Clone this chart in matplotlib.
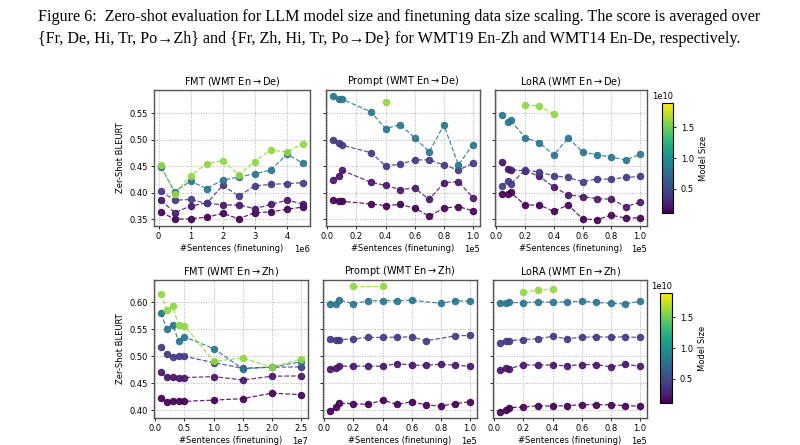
import matplotlib
matplotlib.use("Agg")
import matplotlib.pyplot as plt
import numpy as np
from matplotlib import cm, colors

# ---------------- data ----------------
sizes = [1e9, 2e9, 4e9, 8e9, 1.6e10]

fmt_de_x = [8e4, 5e5, 1e6, 1.5e6, 2e6, 2.5e6, 3e6, 3.5e6, 4e6, 4.5e6]
fmt_de_y = {
    1e9:   [0.364, 0.350, 0.351, 0.354, 0.361, 0.351, 0.3625, 0.364, 0.369, 0.373],
    2e9:   [0.386, 0.3625, 0.375, 0.381, 0.377, 0.377, 0.370, 0.378, 0.386, 0.379],
    4e9:   [0.403, 0.386, 0.3875, 0.380, 0.414, 0.394, 0.413, 0.416, 0.4175, 0.419],
    8e9:   [0.449, 0.402, 0.422, 0.408, 0.424, 0.430, 0.436, 0.443, 0.473, 0.456],
    1.6e10: [0.452, 0.398, 0.4325, 0.455, 0.461, 0.434, 0.459, 0.481, 0.477, 0.493],
}

prompt_de_x = [4e3, 8e3, 1e4, 3e4, 4e4, 5e4, 6e4, 7e4, 8e4, 9e4, 1e5]
prompt_de_green_x = [4e4]
prompt_de_y = {
    1e9:   [0.386, 0.385, 0.384, 0.379, 0.376, 0.378, 0.371, 0.356, 0.371, 0.374, 0.366],
    2e9:   [0.425, 0.432, 0.4425, 0.420, 0.414, 0.406, 0.409, 0.3875, 0.419, 0.421, 0.391],
    4e9:   [0.499, 0.495, 0.490, 0.476, 0.451, 0.454, 0.462, 0.4625, 0.4525, 0.443, 0.4556],
    8e9:   [0.5825, 0.578, 0.577, 0.553, 0.521, 0.529, 0.504, 0.4775, 0.528, 0.453, 0.491],
    1.6e10: [0.571],
}

lora_x = [4e3, 8e3, 1e4, 2e4, 3e4, 4e4, 5e4, 6e4, 7e4, 8e4, 9e4, 1e5]
lora_green_x = [2e4, 3e4, 4e4]
lora_de_y = {
    1e9:   [0.398, 0.397, 0.401, 0.377, 0.377, 0.365, 0.377, 0.351, 0.349, 0.358, 0.352, 0.353],
    2e9:   [0.4575, 0.4456, 0.443, 0.442, 0.431, 0.411, 0.396, 0.393, 0.389, 0.388, 0.374, 0.382],
    4e9:   [0.4125, 0.422, 0.416, 0.443, 0.439, 0.432, 0.429, 0.421, 0.426, 0.426, 0.429, 0.431],
    8e9:   [0.5475, 0.534, 0.5375, 0.504, 0.495, 0.471, 0.504, 0.477, 0.472, 0.4675, 0.462, 0.4725],
    1.6e10: [0.566, 0.564, 0.549],
}

fmt_zh_x = [1e6, 2e6, 3e6, 4e6, 5e6, 1e7, 1.5e7, 2e7, 2.5e7]
fmt_zh_y = {
    1e9:   [0.4222, 0.416, 0.4167, 0.4173, 0.4167, 0.419, 0.4217, 0.432, 0.429],
    2e9:   [0.4706, 0.461, 0.461, 0.4595, 0.4607, 0.4625, 0.4563, 0.4632, 0.4638],
    4e9:   [0.5176, 0.505, 0.499, 0.501, 0.500, 0.4885, 0.478, 0.480, 0.4805],
    8e9:   [0.580, 0.5505, 0.5585, 0.529, 0.536, 0.5145, 0.477, 0.480, 0.490],
    1.6e10: [0.6155, 0.586, 0.5926, 0.558, 0.557, 0.491, 0.497, 0.480, 0.495],
}

prompt_zh_x = {
    1e9:   [4e3, 8e3, 1e4, 2e4, 3e4, 4e4, 5e4, 6e4, 7e4, 8e4, 9e4, 1e5],
    2e9:   [4e3, 8e3, 1e4, 2e4, 3e4, 4e4, 5e4, 6e4, 7e4, 8e4, 9e4, 1e5],
    4e9:   [4e3, 8e3, 1e4, 2e4, 3e4, 4e4, 5e4, 6e4, 7e4, 9e4, 1e5],
    8e9:   [4e3, 8e3, 1e4, 2e4, 3e4, 4e4, 5e4, 6e4, 8e4, 9e4, 1e5],
    1.6e10: [2e4, 4e4],
}
prompt_zh_y = {
    1e9:   [0.3988, 0.4068, 0.413, 0.4124, 0.411, 0.419, 0.411, 0.416, 0.410, 0.408, 0.4124, 0.416],
    2e9:   [0.4774, 0.478, 0.482, 0.482, 0.482, 0.4817, 0.4867, 0.4836, 0.4836, 0.4854, 0.4836, 0.4817],
    4e9:   [0.532, 0.531, 0.531, 0.532, 0.535, 0.535, 0.5356, 0.536, 0.529, 0.538, 0.5387],
    8e9:   [0.5975, 0.5963, 0.605, 0.597, 0.603, 0.603, 0.603, 0.604, 0.598, 0.603, 0.602],
    1.6e10: [0.6297, 0.6297],
}

lora_zh_y = {
    1e9:   [0.3975, 0.400, 0.405, 0.4062, 0.4087, 0.408, 0.4087, 0.4105, 0.4105, 0.4105, 0.4087, 0.408],
    2e9:   [0.4743, 0.478, 0.4774, 0.484, 0.484, 0.484, 0.4824, 0.4848, 0.4848, 0.4805, 0.4854, 0.4817],
    4e9:   [0.524, 0.529, 0.529, 0.531, 0.5325, 0.537, 0.5325, 0.5356, 0.536, 0.5356, 0.536, 0.535],
    8e9:   [0.599, 0.599, 0.600, 0.599, 0.601, 0.600, 0.601, 0.602, 0.600, 0.598, 0.597, 0.602],
    1.6e10: [0.6186, 0.623, 0.6241],
}

titles = ["FMT (WMT En$\\rightarrow$De)", "Prompt (WMT En$\\rightarrow$De)", "LoRA (WMT En$\\rightarrow$De)",
          "FMT (WMT En$\\rightarrow$Zh)", "Prompt (WMT En$\\rightarrow$Zh)", "LoRA (WMT En$\\rightarrow$Zh)"]

caption1 = "Figure 6:  Zero-shot evaluation for LLM model size and finetuning data size scaling. The score is averaged over"
caption2 = "{Fr, De, Hi, Tr, Po\u2192Zh} and {Fr, Zh, Hi, Tr, Po\u2192De} for WMT19 En-Zh and WMT14 En-De, respectively."

# ---------------- figure ----------------
W, H = 800, 445
fig = plt.figure(figsize=(W / 100, H / 100), dpi=100)
fig.patch.set_facecolor("white")

norm = colors.Normalize(vmin=1e9, vmax=1.9e10)
cmap = plt.get_cmap("viridis")

def px_axes(x0, y0, x1, y1, **kw):
    return fig.add_axes([x0 / W, 1 - y1 / H, (x1 - x0) / W, (y1 - y0) / H], **kw)

FS = 6.0
plt.rcParams["font.family"] = ["DejaVu Sans"]

top_boxes = [(154, 90, 310, 226), (326, 90, 480, 226), (495, 90, 647, 226)]
bot_boxes = [(154, 280, 308, 418), (323, 280, 477, 418), (493, 280, 647, 418)]

panels = [
    (fmt_de_x, fmt_de_y, None),
    (prompt_de_x, prompt_de_y, prompt_de_green_x),
    (lora_x, lora_de_y, lora_green_x),
    (fmt_zh_x, fmt_zh_y, None),
    (prompt_zh_x, prompt_zh_y, None),
    (lora_x, lora_zh_y, lora_green_x),
]

axes = []
for row, boxes in enumerate([top_boxes, bot_boxes]):
    first = None
    for col, b in enumerate(boxes):
        ax = px_axes(*b, sharey=first) if first is not None else px_axes(*b)
        if first is None:
            first = ax
        axes.append(ax)

for i, ax in enumerate(axes):
    px, py, gx = panels[i]
    for s in sizes:
        if isinstance(px, dict):
            xs = px[s]
        elif s == 1.6e10 and gx is not None:
            xs = gx
        else:
            xs = px
        ys = py[s]
        c = cmap(norm(s))
        ax.plot(xs, ys, linestyle="--", color=c, lw=0.9, alpha=0.85, zorder=2)
        ax.plot(xs, ys, linestyle="none", marker="o", ms=4.4, color=c, alpha=0.9, zorder=3)
    ax.grid(True, linestyle=":", color="#b0b0b0", lw=0.7)
    ax.set_axisbelow(True)
    for sp in ax.spines.values():
        sp.set_color("#555555")
        sp.set_linewidth(1.0)
    ax.ticklabel_format(style="sci", axis="x", scilimits=(0, 0))
    ax.tick_params(labelsize=FS, length=2.5, width=0.6, pad=2)
    ax.xaxis.get_offset_text().set_fontsize(FS)
    ax.set_title(titles[i], fontsize=FS + 1, pad=4)
    if i % 3 == 0:
        ax.set_ylabel("Zer-Shot BLEURT", fontsize=FS, labelpad=3)
    else:
        plt.setp(ax.get_yticklabels(), visible=False)
    ax.set_xlabel("#Sentences (finetuning)", fontsize=FS, labelpad=2)

axes[0].set_yticks([0.35, 0.40, 0.45, 0.50, 0.55])
axes[3].set_yticks([0.40, 0.45, 0.50, 0.55, 0.60])

sm = cm.ScalarMappable(norm=norm, cmap=cmap)
sm.set_array([])
for cb_box in [(662, 103, 673, 213), (660, 293, 672, 403)]:
    cax = px_axes(*cb_box)
    cb = fig.colorbar(sm, cax=cax)
    cb.set_label("Model Size", fontsize=FS)
    cb.set_ticks([0.5e10, 1.0e10, 1.5e10])
    cb.ax.tick_params(labelsize=FS, length=2, width=0.6)
    cb.ax.yaxis.get_offset_text().set_fontsize(FS)
    cb.outline.set_linewidth(0.8)

fig.text(38 / W, 1 - 17 / H, caption1, fontsize=11.6, va="center", ha="left",
         family=["Liberation Serif", "DejaVu Serif"])
fig.text(38 / W, 1 - 39 / H, caption2, fontsize=11.6, va="center", ha="left",
         family=["Liberation Serif", "DejaVu Serif"])

fig.savefig("out.png", dpi=100)
